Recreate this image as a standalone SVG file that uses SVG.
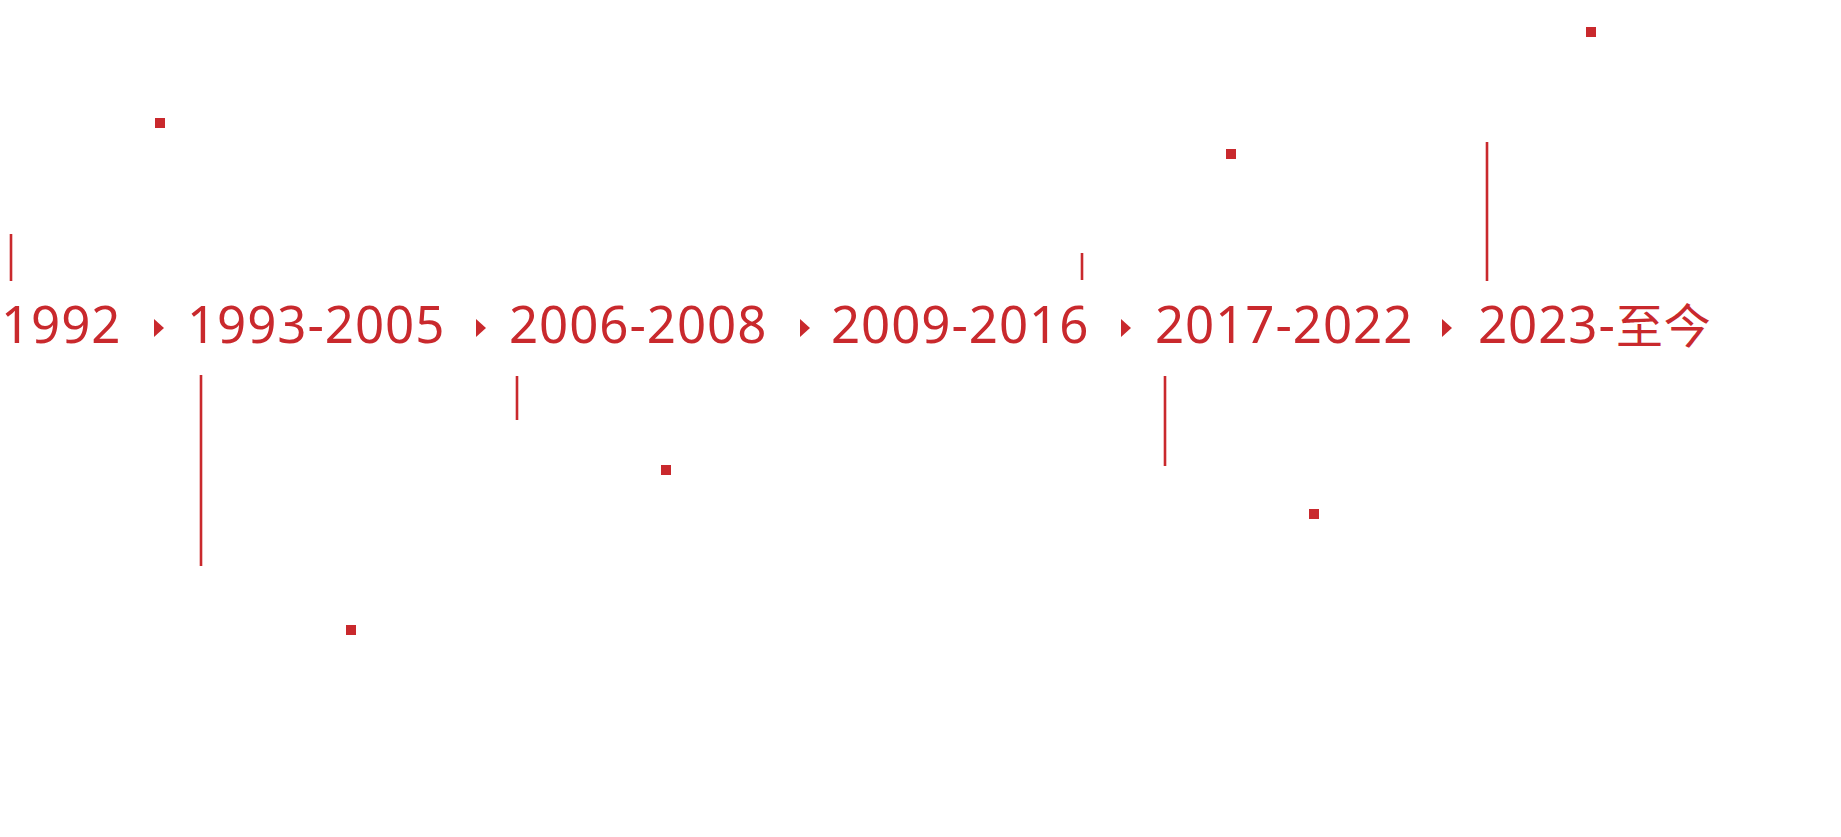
<svg xmlns="http://www.w3.org/2000/svg" width="1841" height="837" viewBox="0 0 1841 837">
  <style>
    .lbl { font-family: "Noto Sans", "Noto Sans CJK SC", sans-serif; font-size: 51px; letter-spacing: 0.95px; fill: #c9292d; }
    .cjk { font-family: "Noto Sans CJK SC", sans-serif; font-size: 47px; letter-spacing: 1px; }
    .ln { fill: #c9292d; }
    .sq { fill: #c9292d; }
    .tri { fill: #c9292d; }
  </style>
  <rect x="0" y="0" width="1841" height="837" fill="#ffffff"/>
  <g id="node-1992">
    <text class="lbl" x="1" y="343">1992</text>
  </g>
  <g id="node-1993-2005">
    <text class="lbl" x="187" y="343">1993-2005</text>
  </g>
  <g id="node-2006-2008">
    <text class="lbl" x="509" y="343">2006-2008</text>
  </g>
  <g id="node-2009-2016">
    <text class="lbl" x="831" y="343">2009-2016</text>
  </g>
  <g id="node-2017-2022">
    <text class="lbl" x="1155" y="343">2017-2022</text>
  </g>
  <g id="node-2023">
    <text class="lbl" x="1478" y="343">2023-<tspan class="cjk">至今</tspan></text>
  </g>
  <g id="connectors">
    <polygon class="tri" points="154,319 164,328 154,337"/>
    <polygon class="tri" points="476,319 486,328 476,337"/>
    <polygon class="tri" points="800,319 810,328 800,337"/>
    <polygon class="tri" points="1121,319 1131,328 1121,337"/>
    <polygon class="tri" points="1442,319 1452,328 1442,337"/>
  </g>
  <g id="ticks">
    <rect class="ln" x="9.7" y="234" width="2.6" height="47"/>
    <rect class="ln" x="199.7" y="375" width="2.6" height="191"/>
    <rect class="ln" x="515.7" y="376" width="2.6" height="44"/>
    <rect class="ln" x="1080.7" y="253" width="2.6" height="27"/>
    <rect class="ln" x="1163.7" y="376" width="2.6" height="90"/>
    <rect class="ln" x="1485.7" y="142" width="2.6" height="139"/>
  </g>
  <g id="dots">
    <rect class="sq" x="155" y="118" width="10" height="10"/>
    <rect class="sq" x="346" y="625" width="10" height="10"/>
    <rect class="sq" x="661" y="465" width="10" height="10"/>
    <rect class="sq" x="1226" y="149" width="10" height="10"/>
    <rect class="sq" x="1309" y="509" width="10" height="10"/>
    <rect class="sq" x="1586" y="27" width="10" height="10"/>
  </g>
</svg>
